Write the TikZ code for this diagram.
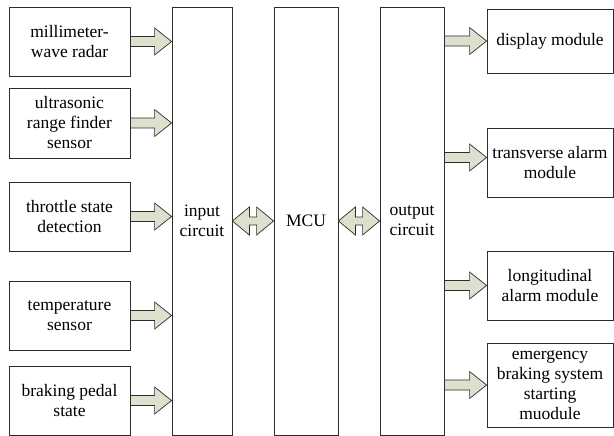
\documentclass[tikz,border=0pt]{standalone}
\usepackage{fontspec}
\setmainfont{LiberationSerif}[Extension=.ttf, UprightFont=*-Regular]
\usetikzlibrary{calc}
\definecolor{arrfill}{RGB}{220,225,205}
\definecolor{linec}{RGB}{45,45,45}
\begin{document}
\begin{tikzpicture}[x=1pt,y=-1pt,
  font=\rmfamily\fontsize{17.5}{20}\selectfont,
  box/.style={draw=linec, line width=0.8pt, inner sep=0pt, align=center},
  blockarr/.style={draw=linec, line width=0.7pt, fill=arrfill,
    to path={let \p1=(\tikztostart), \p2=(\tikztotarget) in
      (\x1,\y1-5pt) -- (\x2-17pt,\y1-5pt) -- (\x2-17pt,\y1-13.5pt) -- (\x2,\y1)
      -- (\x2-17pt,\y1+13.5pt) -- (\x2-17pt,\y1+5pt) -- (\x1,\y1+5pt) -- cycle}},
  dblarr/.style={draw=linec, line width=0.7pt, fill=arrfill,
    to path={let \p1=(\tikztostart), \p2=(\tikztotarget) in
      (\x1,\y1) -- (\x1+17pt,\y1+14pt) -- (\x1+17pt,\y1+4pt) -- (\x2-17pt,\y1+4pt)
      -- (\x2-17pt,\y1+14pt) -- (\x2,\y1) -- (\x2-17pt,\y1-14pt) -- (\x2-17pt,\y1-4pt)
      -- (\x1+17pt,\y1-4pt) -- (\x1+17pt,\y1-14pt) -- cycle}}]
\useasboundingbox (0,0) rectangle (614,436);

% left input boxes
\node[box, minimum width=121pt, minimum height=69pt] (m1) at (69.5,41.5) {millimeter-\\wave radar};
\node[box, minimum width=121pt, minimum height=70pt] (m2) at (69.5,123) {ultrasonic\\range finder\\sensor};
\node[box, minimum width=121pt, minimum height=69pt] (m3) at (69.5,216.5) {throttle state\\detection};
\node[box, minimum width=121pt, minimum height=69pt] (m4) at (69.5,315.5) {temperature\\sensor};
\node[box, minimum width=121pt, minimum height=69pt] (m5) at (69.5,400.5) {braking pedal\\state};

% central columns
\node[box, minimum width=60pt, minimum height=428pt] (in) at (202,221) {input\\circuit};
\node[box, minimum width=64pt, minimum height=428pt] (mcu) at (306,221) {MCU};
\node[box, minimum width=64pt, minimum height=428pt] (out) at (412,221) {output\\circuit};

% right output boxes
\node[box, minimum width=126pt, minimum height=64pt] (d1) at (550,41) {display module};
\node[box, minimum width=126pt, minimum height=69pt] (d2) at (550,162.5) {transverse alarm\\module};
\node[box, minimum width=126pt, minimum height=69pt] (d3) at (550,285.5) {longitudinal\\alarm module};
\node[box, minimum width=126pt, minimum height=84pt] (d4) at (550,385) {emergency\\braking system\\starting\\muodule};

% input arrows
\draw[blockarr] (m1.east) to (m1.east -| in.west);
\draw[blockarr] (m2.east) to (m2.east -| in.west);
\draw[blockarr] (m3.east) to (m3.east -| in.west);
\draw[blockarr] (m4.east) to (m4.east -| in.west);
\draw[blockarr] (m5.east) to (m5.east -| in.west);

% bidirectional arrows
\draw[dblarr] (in.east |- mcu.center) to (mcu.west);
\draw[dblarr] (mcu.east) to (out.west);

% output arrows
\draw[blockarr] (d1.west -| out.east) to (d1.west);
\draw[blockarr] ($(d2.west -| out.east)+(0,-5)$) to ($(d2.west)+(0,-5)$);
\draw[blockarr] (d3.west -| out.east) to (d3.west);
\draw[blockarr] (d4.west -| out.east) to (d4.west);
\end{tikzpicture}
\end{document}
